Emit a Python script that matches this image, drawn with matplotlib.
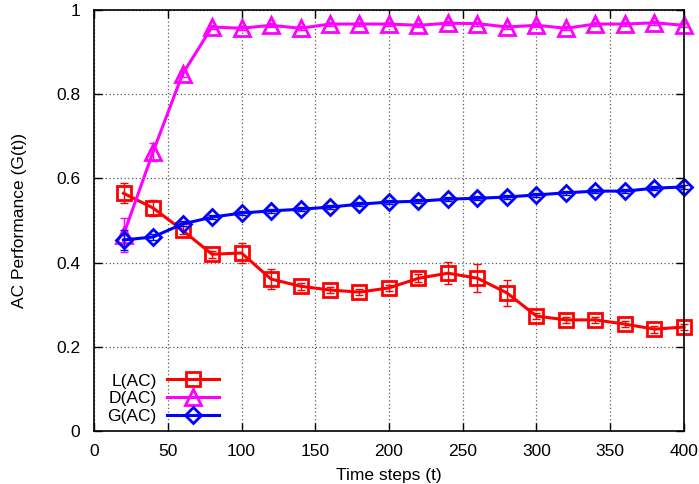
import numpy as np
import matplotlib
matplotlib.use("Agg")
import matplotlib.pyplot as plt

plt.rcParams['font.family'] = ['Liberation Sans', 'DejaVu Sans']

# data
steps = [20, 40, 60, 80, 100, 120, 140, 160, 180, 200,
         220, 240, 260, 280, 300, 320, 340, 360, 380, 400]
l_ac = [0.565, 0.530, 0.477, 0.420, 0.423, 0.361, 0.344, 0.335, 0.330, 0.340,
        0.363, 0.375, 0.363, 0.328, 0.273, 0.264, 0.264, 0.254, 0.242, 0.247]
l_err = [0.024, 0.020, 0.010, 0.008, 0.024, 0.024, 0.008, 0.008, 0.008, 0.008,
         0.010, 0.026, 0.033, 0.031, 0.008, 0.008, 0.008, 0.008, 0.008, 0.008]
d_ac = [0.466, 0.663, 0.848, 0.960, 0.957, 0.964, 0.957, 0.967, 0.967, 0.967,
        0.964, 0.969, 0.968, 0.960, 0.964, 0.957, 0.967, 0.967, 0.970, 0.964]
d_err = [0.040, 0.022, 0.008, 0.005, 0.005, 0.005, 0.005, 0.005, 0.005, 0.005,
         0.005, 0.005, 0.005, 0.005, 0.005, 0.005, 0.005, 0.005, 0.005, 0.005]
g_ac = [0.454, 0.461, 0.492, 0.508, 0.518, 0.523, 0.527, 0.532, 0.539, 0.544,
        0.546, 0.551, 0.553, 0.556, 0.561, 0.566, 0.570, 0.570, 0.577, 0.580]
g_err = [0.024, 0.008, 0.006, 0.005, 0.005, 0.005, 0.005, 0.005, 0.005, 0.005,
         0.005, 0.005, 0.005, 0.005, 0.005, 0.005, 0.005, 0.005, 0.005, 0.005]

fig = plt.figure(figsize=(6.99, 4.84), dpi=100)
ax = fig.add_axes([0.1345, 0.1095, 0.844, 0.8695])

series = [("L(AC)", l_ac, l_err, "#ff0000", "s", 10),
          ("D(AC)", d_ac, d_err, "#ff00ff", "^", 11),
          ("G(AC)", g_ac, g_err, "#0000ff", "D", 8)]

for name, vals, errs, col, mk, ms in series:
    ax.errorbar(steps, vals, yerr=errs, fmt="none", ecolor=col,
                elinewidth=1, capsize=3, capthick=1, clip_on=False)
    ax.plot(steps, vals, color=col, lw=2.2, marker=mk, ms=ms,
            mfc="none", mew=2, label=name, clip_on=False)

ax.set_xlim(0, 400)
ax.set_ylim(0, 1)
ax.set_xticks(np.arange(0, 401, 50))
ax.set_yticks([0, 0.2, 0.4, 0.6, 0.8, 1])
ax.set_yticklabels(["0", "0.2", "0.4", "0.6", "0.8", "1"])
ax.tick_params(direction="in", top=True, right=True, labelsize=12.5,
               length=6, width=1)
ax.tick_params(axis="y", pad=10)
ax.tick_params(axis="x", pad=9)
ax.grid(True, color="0.35", linestyle=(0, (1, 2)), lw=0.9)
for s in ax.spines.values():
    s.set_linewidth(1.2)
    s.set_zorder(3)

ax.set_xlabel("Time steps (t)", fontsize=12.5, labelpad=7)
ax.set_ylabel("AC Performance (G(t))", fontsize=12.5, labelpad=21)

ax.legend(loc="lower left", markerfirst=False, frameon=False, fontsize=12.5,
          handlelength=3.0, handletextpad=0.6, labelspacing=0.15,
          borderaxespad=0.0, bbox_to_anchor=(0.011, 0.0))

fig.savefig("out.png", dpi=100)
